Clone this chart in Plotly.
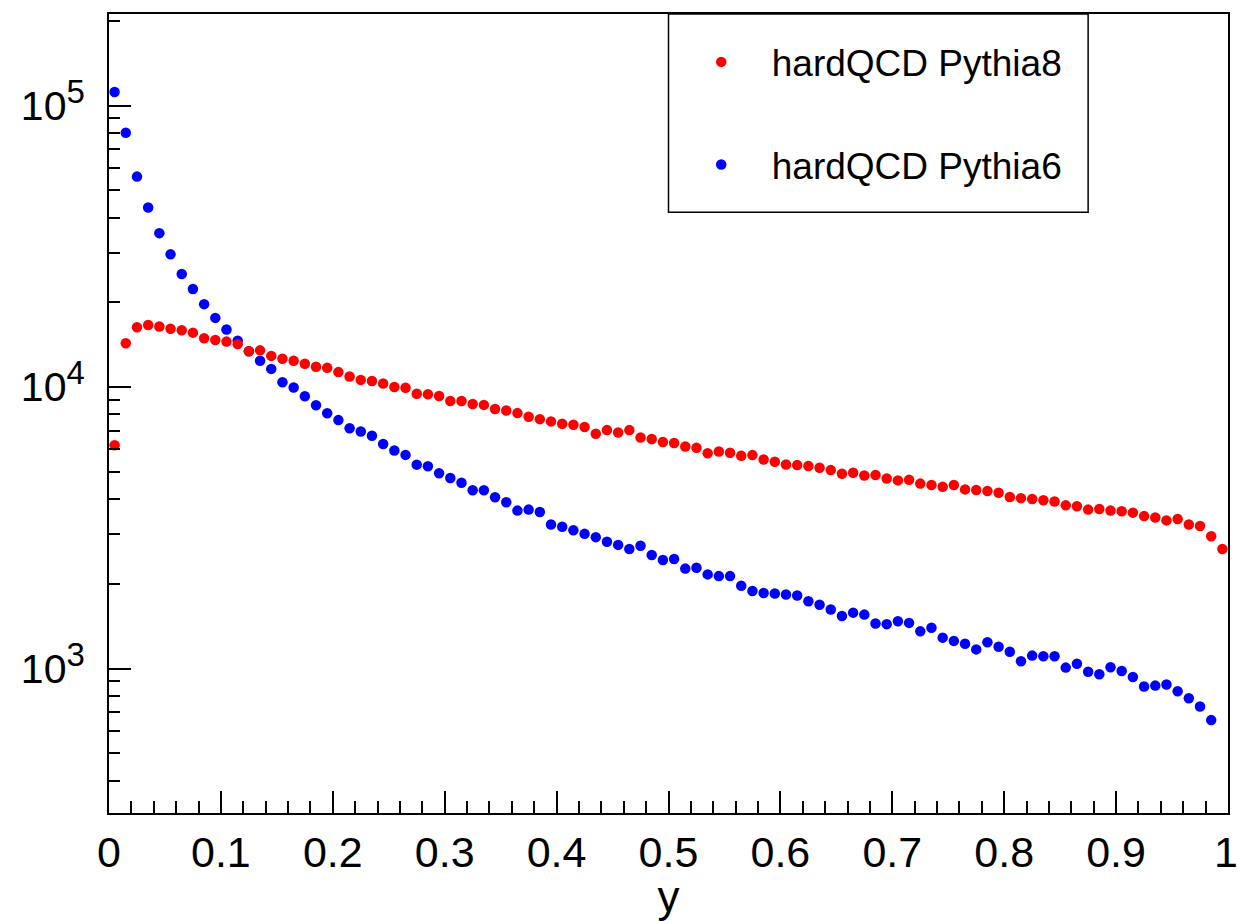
import numpy as np
import plotly.graph_objects as go

# bin centres of a 100-bin histogram on [0, 1]
n_bins = 100
x_centres = (np.arange(n_bins) + 0.5) / n_bins

pythia8 = [6210, 14300, 16300, 16600, 16400, 16100, 15900, 15600, 14900, 14700,
           14500, 14200, 13400, 13500, 12900, 12600, 12400, 12100, 11800, 11700,
           11300, 10900, 10600, 10500, 10300, 10000, 9940, 9460, 9420, 9290,
           8920, 8920, 8710, 8640, 8360, 8250, 8080, 7840, 7690, 7550,
           7410, 7350, 7210, 6820, 7030, 6890, 7030, 6620, 6540, 6380,
           6330, 6150, 6080, 5820, 5900, 5840, 5700, 5730, 5530, 5430,
           5310, 5280, 5240, 5170, 5070, 4920, 4960, 4850, 4870, 4730,
           4660, 4680, 4540, 4490, 4420, 4490, 4330, 4310, 4270, 4210,
           4070, 4030, 4000, 3960, 3920, 3800, 3770, 3670, 3690, 3640,
           3620, 3580, 3480, 3440, 3360, 3400, 3250, 3210, 2950, 2660]

pythia6 = [111700, 80000, 55900, 43400, 35200, 29600, 25200, 22300, 19700, 17600,
           16000, 14600, 13400, 12400, 11600, 10400, 9960, 9280, 8620, 8070,
           7630, 7140, 6950, 6710, 6280, 5950, 5740, 5300, 5230, 4940,
           4750, 4570, 4300, 4300, 4060, 3900, 3640, 3670, 3600, 3250,
           3190, 3100, 3010, 2930, 2820, 2750, 2660, 2730, 2530, 2430,
           2450, 2265, 2280, 2160, 2130, 2130, 1970, 1885, 1855, 1847,
           1832, 1817, 1735, 1685, 1622, 1537, 1580, 1555, 1446, 1438,
           1473, 1453, 1356, 1396, 1288, 1254, 1225, 1170, 1241, 1195,
           1148, 1062, 1112, 1106, 1106, 1008, 1040, 975, 954, 1011,
           980, 934, 864, 870, 878, 831, 784, 733, 656, None]

names = ["hardQCD Pythia8", "hardQCD Pythia6"]
colors = ["#ff0000", "#0000ff"]

# x-axis labels: the last one ("1") sits on the frame edge and is drawn right-anchored
x_ticks = [0, 0.1, 0.2, 0.3, 0.4, 0.5, 0.6, 0.7, 0.8, 0.9]
x_ticktext = ["0", "0.1", "0.2", "0.3", "0.4", "0.5", "0.6", "0.7", "0.8", "0.9"]
x_last_tick = 1
x_last_text = "1"
y_ticks = [1e3, 1e4, 1e5]
y_exponents = ["3", "4", "5"]
y_ticktext = ['10<sup><span style="font-size:33px">%s</span></sup>' % e for e in y_exponents]
y_minor = [m * 10 ** e for e in (2, 3, 4, 5) for m in range(2, 10)]

FONT = "Liberation Sans, Arial, Helvetica, sans-serif"

fig = go.Figure()
fig.add_trace(go.Scatter(
    x=x_centres, y=pythia6, mode="markers", name=names[1],
    marker=dict(color=colors[1], size=10.5, symbol="circle"),
    legendgroup="b", legendrank=2,
))
fig.add_trace(go.Scatter(
    x=x_centres, y=pythia8, mode="markers", name=names[0],
    marker=dict(color=colors[0], size=10.5, symbol="circle"),
    legendgroup="a", legendrank=1,
))

# legend frame (ROOT TLegend box)
fig.add_shape(type="rect", xref="paper", yref="paper",
              x0=0.5, x1=0.875, y0=0.7519, y1=1.0,
              line=dict(color="black", width=1.5), fillcolor="white", layer="below")

fig.add_annotation(
    x=x_last_tick, xref="x", y=0, yref="paper",
    text=x_last_text, showarrow=False,
    xanchor="right", yanchor="top", xshift=12, yshift=-13,
    font=dict(size=43, family=FONT, color="black"),
)

fig.update_layout(
    width=1242, height=921,
    margin=dict(l=109, r=13, t=13, b=102),
    paper_bgcolor="white", plot_bgcolor="white",
    font=dict(family=FONT, color="black"),
    showlegend=True,
    legend=dict(
        x=0.502, y=0.9783, xanchor="left", yanchor="top",
        bgcolor="rgba(0,0,0,0)", borderwidth=0,
        font=dict(size=37, family=FONT, color="black"),
        itemwidth=91, tracegroupgap=51.5,
        traceorder="grouped",
    ),
    xaxis=dict(
        range=[0, 1], showgrid=False, zeroline=False,
        showline=True, linecolor="black", linewidth=2, mirror=True,
        ticks="inside", ticklen=22, tickwidth=1.5, tickcolor="black",
        tickvals=x_ticks, ticktext=x_ticktext,
        tickfont=dict(size=43, family=FONT),
        minor=dict(ticks="inside", ticklen=12, dtick=0.02, tickcolor="black", tickwidth=1.5, showgrid=False),
        title=dict(text="y", font=dict(size=44, family=FONT), standoff=3),
    ),
    yaxis=dict(
        type="log", range=[2.487, 5.325], showgrid=False, zeroline=False,
        showline=True, linecolor="black", linewidth=2, mirror=True,
        ticks="inside", ticklen=22, tickwidth=1.5, tickcolor="black",
        tickvals=y_ticks, ticktext=y_ticktext,
        tickfont=dict(size=41, family=FONT),
        ticklabelstandoff=14,
        minor=dict(ticks="inside", ticklen=11, tickvals=y_minor, tickcolor="black", tickwidth=1.5, showgrid=False),
    ),
)

fig.write_html("out.html")
